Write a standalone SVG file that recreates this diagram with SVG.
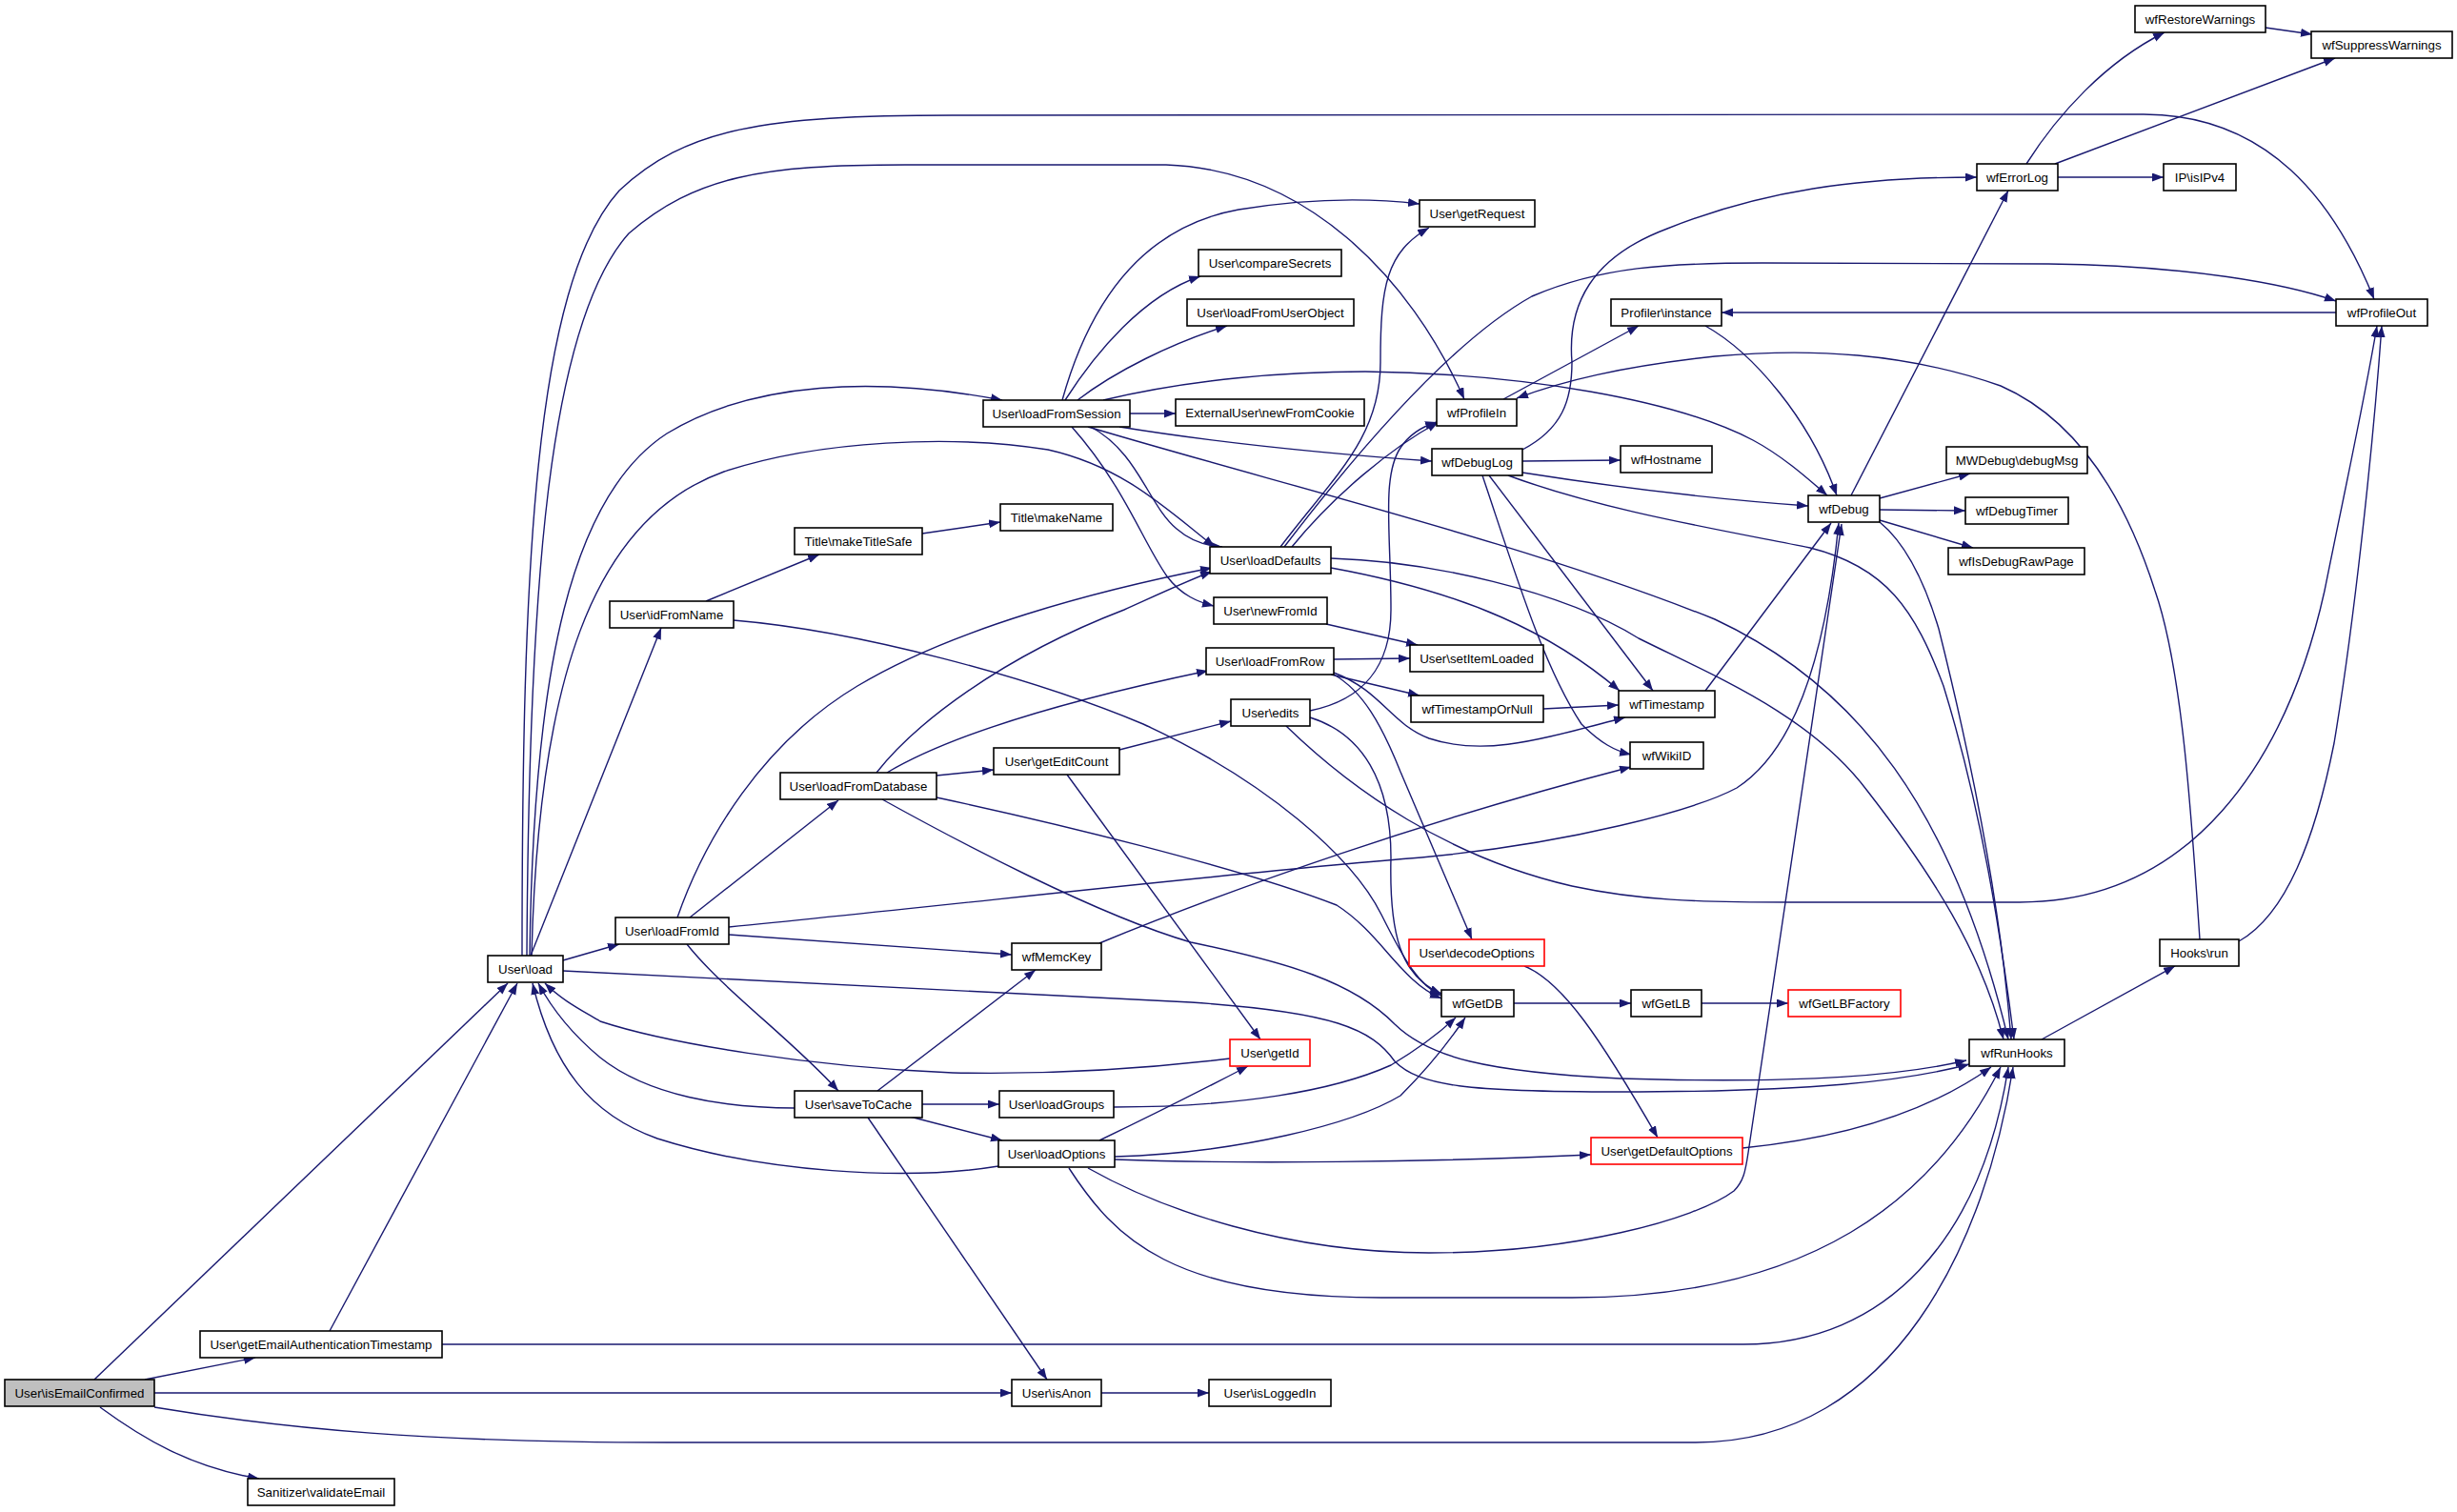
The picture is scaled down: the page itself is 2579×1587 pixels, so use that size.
<svg xmlns="http://www.w3.org/2000/svg" width="2579" height="1587" viewBox="0 0 2579 1587">
<style>
.e{fill:none;stroke:#191970;stroke-width:1.4;marker-end:url(#a)}
.n rect{fill:#ffffff;stroke:#000000;stroke-width:1.6}
.n.r rect{stroke:#ff0000}
.n.g rect{fill:#bfbfbf}
.n text{font-family:"Liberation Sans",Arial,sans-serif;font-size:13.3px;text-anchor:middle;fill:#000000}
</style>
<defs>
<marker id="a" markerUnits="userSpaceOnUse" markerWidth="14" markerHeight="10" refX="12" refY="4.5" orient="auto"><path d="M0,0 L12,4.5 L0,9 z" fill="#191970"/></marker>
</defs>
<rect x="0" y="0" width="2579" height="1587" fill="#ffffff"/>
<g id="edges">
<path class="e" d="M99,1448 L533,1032"/>
<path class="e" d="M152,1448 L268,1425"/>
<path class="e" d="M162,1462 L1062,1462"/>
<path class="e" d="M162,1477 C300,1500 450,1514 700,1514 L1780,1514 C1990,1514 2085,1300 2113,1120"/>
<path class="e" d="M105,1477 C150,1510 200,1540 272,1552"/>
<path class="e" d="M346,1397 L543,1032"/>
<path class="e" d="M464,1411 L1830,1411 C1980,1411 2080,1300 2108,1120"/>
<path class="e" d="M548,1003 C548,600 560,300 650,200 C720,135 800,121 1000,121 L2250,120 C2380,120 2450,210 2492,314"/>
<path class="e" d="M553,1003 C555,620 575,340 660,245 C730,185 800,173 950,173 L1224,173 C1370,178 1480,290 1537,419"/>
<path class="e" d="M556,1003 C560,700 600,520 700,455 C790,400 920,395 1052,420"/>
<path class="e" d="M558,1003 C565,720 620,545 760,495 C860,462 1000,456 1100,472 C1180,490 1225,535 1275,574"/>
<path class="e" d="M557,1003 L694,659"/>
<path class="e" d="M591,1008 L650,991"/>
<path class="e" d="M591,1019 L1250,1052 C1400,1062 1440,1080 1464,1114 C1490,1140 1540,1146 1700,1146 C1900,1146 2000,1135 2067,1117"/>
<path class="e" d="M741,631 L860,582"/>
<path class="e" d="M770,651 C900,662 1080,710 1200,760 C1330,820 1420,900 1450,960 C1475,1010 1490,1035 1513,1045"/>
<path class="e" d="M968,560 L1050,548"/>
<path class="e" d="M711,963 C740,880 800,780 900,720 C1000,660 1150,620 1272,596"/>
<path class="e" d="M724,963 L880,840"/>
<path class="e" d="M765,973 C1000,950 1300,915 1492,900 C1650,885 1780,850 1823,827 C1880,790 1915,700 1930,549"/>
<path class="e" d="M920,811 C960,760 1050,690 1180,640 C1220,622 1250,608 1272,600"/>
<path class="e" d="M931,811 C1000,770 1120,735 1268,704"/>
<path class="e" d="M983,814 L1043,808"/>
<path class="e" d="M983,837 C1100,862 1300,910 1403,950 C1450,980 1470,1030 1513,1048"/>
<path class="e" d="M926,839 C1000,880 1150,960 1250,989 C1350,1010 1420,1030 1464,1075 C1500,1110 1560,1125 1700,1132 C1900,1138 2000,1128 2064,1113"/>
<path class="e" d="M1175,787 L1292,757"/>
<path class="e" d="M1120,813 L1323,1091"/>
<path class="e" d="M1115,420 C1140,330 1190,240 1300,220 C1380,207 1440,208 1490,214"/>
<path class="e" d="M1118,420 C1150,370 1200,310 1260,290"/>
<path class="e" d="M1131,420 C1170,390 1230,360 1288,342"/>
<path class="e" d="M1186,434 L1234,434"/>
<path class="e" d="M1158,420 C1250,398 1350,390 1433,390 C1600,392 1760,420 1840,462 C1870,478 1895,500 1918,520"/>
<path class="e" d="M1175,448 C1280,465 1390,476 1503,484"/>
<path class="e" d="M1145,448 C1195,475 1205,530 1235,555 C1250,568 1265,573 1283,574"/>
<path class="e" d="M1125,448 C1180,510 1200,570 1225,605 C1240,625 1258,632 1274,636"/>
<path class="e" d="M1142,448 C1350,510 1600,570 1800,650 C1950,720 2050,850 2108,1091"/>
<path class="e" d="M1344,574 C1400,500 1449,460 1449,380 C1449,300 1455,265 1500,239"/>
<path class="e" d="M1356,574 C1400,520 1460,470 1510,443"/>
<path class="e" d="M1348,574 C1420,480 1520,360 1608,311 C1680,280 1750,276 1850,276 L2150,277 C2300,279 2400,298 2452,316"/>
<path class="e" d="M1397,596 C1540,622 1630,665 1700,725"/>
<path class="e" d="M1397,586 C1500,589 1640,620 1720,670 C1800,710 1900,750 1960,830 C2030,920 2080,1000 2103,1091"/>
<path class="e" d="M1375,746 C1430,735 1460,700 1460,640 C1460,560 1450,500 1470,470 C1480,455 1495,447 1508,443"/>
<path class="e" d="M1375,753 C1430,770 1460,820 1460,900 C1458,980 1470,1025 1513,1043"/>
<path class="e" d="M1350,762 C1420,830 1520,900 1650,930 C1720,945 1780,947 1880,947 L2120,947 C2300,947 2400,800 2440,620 C2460,520 2480,430 2495,342"/>
<path class="e" d="M2350,988 C2400,960 2430,880 2450,780 C2470,660 2490,480 2500,342"/>
<path class="e" d="M2309,986 C2300,850 2290,700 2262,620 C2230,520 2180,440 2100,405 C2000,370 1900,365 1800,374 C1700,385 1640,400 1592,418"/>
<path class="e" d="M1578,419 L1720,342"/>
<path class="e" d="M1598,472 C1640,450 1650,420 1650,380 C1645,320 1670,270 1750,240 C1850,200 1950,186 2075,186"/>
<path class="e" d="M1598,484 L1701,483"/>
<path class="e" d="M1598,496 C1700,512 1800,524 1898,531"/>
<path class="e" d="M1583,499 C1680,535 1800,555 1900,575 C1980,595 2010,640 2040,720 C2080,850 2100,980 2114,1091"/>
<path class="e" d="M1556,499 C1590,600 1620,700 1660,760 C1680,780 1695,788 1712,792"/>
<path class="e" d="M1563,499 L1735,725"/>
<path class="e" d="M1943,520 L2108,200"/>
<path class="e" d="M1973,523 L2068,497"/>
<path class="e" d="M1973,535 L2063,536"/>
<path class="e" d="M1973,546 L2071,575"/>
<path class="e" d="M2127,172 C2160,120 2210,65 2272,34"/>
<path class="e" d="M2157,172 L2451,61"/>
<path class="e" d="M2160,186 L2271,186"/>
<path class="e" d="M2378,29 L2427,36"/>
<path class="e" d="M2452,328 L1807,328"/>
<path class="e" d="M1790,342 C1840,370 1900,440 1928,520"/>
<path class="e" d="M1589,1053 L1712,1053"/>
<path class="e" d="M1786,1053 L1877,1053"/>
<path class="e" d="M1600,1014 C1640,1030 1680,1090 1740,1194"/>
<path class="e" d="M1829,1205 C1930,1195 2020,1170 2090,1120"/>
<path class="e" d="M1400,692 L1480,691"/>
<path class="e" d="M1397,708 L1490,730"/>
<path class="e" d="M1400,706 C1450,725 1460,760 1500,775 C1560,795 1620,775 1706,753"/>
<path class="e" d="M1400,708 C1430,725 1450,760 1470,810 L1545,986"/>
<path class="e" d="M1392,655 L1488,677"/>
<path class="e" d="M1620,744 L1699,740"/>
<path class="e" d="M1154,990 C1300,930 1500,860 1712,805"/>
<path class="e" d="M921,1145 L1087,1018"/>
<path class="e" d="M968,1159 L1049,1159"/>
<path class="e" d="M955,1172 L1052,1197"/>
<path class="e" d="M911,1173 L1099,1448"/>
<path class="e" d="M834,1163 C760,1163 680,1150 630,1110 C600,1085 580,1060 565,1032"/>
<path class="e" d="M1048,1224 C950,1240 800,1230 690,1195 C620,1170 580,1120 559,1032"/>
<path class="e" d="M1291,1111 C1200,1122 1100,1128 1000,1126 C850,1120 700,1095 630,1072 C610,1060 590,1050 572,1032"/>
<path class="e" d="M1169,1162 C1300,1162 1400,1145 1460,1118 C1490,1100 1510,1085 1528,1068"/>
<path class="e" d="M1154,1197 C1200,1175 1260,1145 1310,1119"/>
<path class="e" d="M1170,1214 C1300,1210 1420,1180 1470,1150 C1500,1120 1520,1095 1538,1068"/>
<path class="e" d="M1170,1217 C1300,1222 1500,1220 1670,1212"/>
<path class="e" d="M1142,1226 C1220,1270 1350,1315 1500,1315 C1650,1315 1780,1280 1820,1250 C1830,1240 1832,1230 1835,1210 L1933,550"/>
<path class="e" d="M1122,1226 C1170,1300 1230,1362 1450,1362 L1650,1362 C1900,1362 2030,1260 2100,1120"/>
<path class="e" d="M765,981 L1062,1002"/>
<path class="e" d="M721,991 C760,1040 830,1090 880,1145"/>
<path class="e" d="M2143,1091 L2283,1014"/>
<path class="e" d="M1156,1462 L1269,1462"/>
<path class="e" d="M1973,548 C2000,570 2020,610 2035,660 C2070,800 2100,950 2111,1091"/>
<path class="e" d="M1790,725 L1922,549"/>
</g>
<g id="n_isEmailConfirmed" class="n g"><rect x="5" y="1448" width="157" height="28"/><text x="83.5" y="1467">User\isEmailConfirmed</text></g>
<g id="n_getEmailAuthenticationTimestamp" class="n"><rect x="210" y="1397" width="254" height="28"/><text x="337" y="1416">User\getEmailAuthenticationTimestamp</text></g>
<g id="n_validateEmail" class="n"><rect x="260" y="1552" width="154" height="28"/><text x="337" y="1571">Sanitizer\validateEmail</text></g>
<g id="n_load" class="n"><rect x="512" y="1003" width="79" height="28"/><text x="551.5" y="1022">User\load</text></g>
<g id="n_idFromName" class="n"><rect x="640" y="631" width="130" height="28"/><text x="705" y="650">User\idFromName</text></g>
<g id="n_loadFromId" class="n"><rect x="646" y="963" width="119" height="28"/><text x="705.5" y="982">User\loadFromId</text></g>
<g id="n_makeTitleSafe" class="n"><rect x="834" y="554" width="134" height="28"/><text x="901" y="573">Title\makeTitleSafe</text></g>
<g id="n_loadFromDatabase" class="n"><rect x="819" y="811" width="164" height="28"/><text x="901" y="830">User\loadFromDatabase</text></g>
<g id="n_saveToCache" class="n"><rect x="834" y="1145" width="134" height="28"/><text x="901" y="1164">User\saveToCache</text></g>
<g id="n_loadFromSession" class="n"><rect x="1032" y="420" width="154" height="28"/><text x="1109" y="439">User\loadFromSession</text></g>
<g id="n_makeName" class="n"><rect x="1050" y="529" width="118" height="28"/><text x="1109" y="548">Title\makeName</text></g>
<g id="n_getEditCount" class="n"><rect x="1043" y="785" width="132" height="28"/><text x="1109" y="804">User\getEditCount</text></g>
<g id="n_wfMemcKey" class="n"><rect x="1062" y="990" width="94" height="28"/><text x="1109" y="1009">wfMemcKey</text></g>
<g id="n_loadGroups" class="n"><rect x="1049" y="1145" width="120" height="28"/><text x="1109" y="1164">User\loadGroups</text></g>
<g id="n_loadOptions" class="n"><rect x="1048" y="1197" width="122" height="28"/><text x="1109" y="1216">User\loadOptions</text></g>
<g id="n_isAnon" class="n"><rect x="1062" y="1448" width="94" height="28"/><text x="1109" y="1467">User\isAnon</text></g>
<g id="n_compareSecrets" class="n"><rect x="1258" y="262" width="150" height="28"/><text x="1333" y="281">User\compareSecrets</text></g>
<g id="n_loadFromUserObject" class="n"><rect x="1246" y="314" width="175" height="28"/><text x="1333.5" y="333">User\loadFromUserObject</text></g>
<g id="n_newFromCookie" class="n"><rect x="1234" y="419" width="198" height="28"/><text x="1333" y="438">ExternalUser\newFromCookie</text></g>
<g id="n_loadDefaults" class="n"><rect x="1270" y="574" width="127" height="28"/><text x="1333.5" y="593">User\loadDefaults</text></g>
<g id="n_newFromId" class="n"><rect x="1274" y="627" width="119" height="28"/><text x="1333.5" y="646">User\newFromId</text></g>
<g id="n_loadFromRow" class="n"><rect x="1266" y="680" width="134" height="28"/><text x="1333" y="699">User\loadFromRow</text></g>
<g id="n_edits" class="n"><rect x="1292" y="734" width="83" height="28"/><text x="1333.5" y="753">User\edits</text></g>
<g id="n_getId" class="n r"><rect x="1291" y="1091" width="84" height="28"/><text x="1333" y="1110">User\getId</text></g>
<g id="n_isLoggedIn" class="n"><rect x="1269" y="1448" width="128" height="28"/><text x="1333" y="1467">User\isLoggedIn</text></g>
<g id="n_getRequest" class="n"><rect x="1490" y="210" width="121" height="28"/><text x="1550.5" y="229">User\getRequest</text></g>
<g id="n_wfProfileIn" class="n"><rect x="1508" y="419" width="84" height="28"/><text x="1550" y="438">wfProfileIn</text></g>
<g id="n_wfDebugLog" class="n"><rect x="1503" y="471" width="95" height="28"/><text x="1550.5" y="490">wfDebugLog</text></g>
<g id="n_setItemLoaded" class="n"><rect x="1480" y="677" width="140" height="28"/><text x="1550" y="696">User\setItemLoaded</text></g>
<g id="n_wfTimestampOrNull" class="n"><rect x="1481" y="730" width="139" height="28"/><text x="1550.5" y="749">wfTimestampOrNull</text></g>
<g id="n_decodeOptions" class="n r"><rect x="1479" y="986" width="142" height="28"/><text x="1550" y="1005">User\decodeOptions</text></g>
<g id="n_wfGetDB" class="n"><rect x="1513" y="1039" width="76" height="28"/><text x="1551" y="1058">wfGetDB</text></g>
<g id="n_profilerInstance" class="n"><rect x="1691" y="314" width="116" height="28"/><text x="1749" y="333">Profiler\instance</text></g>
<g id="n_wfHostname" class="n"><rect x="1701" y="468" width="96" height="28"/><text x="1749" y="487">wfHostname</text></g>
<g id="n_wfTimestamp" class="n"><rect x="1699" y="725" width="101" height="28"/><text x="1749.5" y="744">wfTimestamp</text></g>
<g id="n_wfWikiID" class="n"><rect x="1711" y="779" width="77" height="28"/><text x="1749.5" y="798">wfWikiID</text></g>
<g id="n_wfGetLB" class="n"><rect x="1712" y="1039" width="74" height="28"/><text x="1749" y="1058">wfGetLB</text></g>
<g id="n_getDefaultOptions" class="n r"><rect x="1670" y="1194" width="159" height="28"/><text x="1749.5" y="1213">User\getDefaultOptions</text></g>
<g id="n_wfDebug" class="n"><rect x="1898" y="520" width="75" height="28"/><text x="1935.5" y="539">wfDebug</text></g>
<g id="n_wfGetLBFactory" class="n r"><rect x="1877" y="1039" width="118" height="28"/><text x="1936" y="1058">wfGetLBFactory</text></g>
<g id="n_wfErrorLog" class="n"><rect x="2075" y="172" width="85" height="28"/><text x="2117.5" y="191">wfErrorLog</text></g>
<g id="n_debugMsg" class="n"><rect x="2043" y="469" width="148" height="28"/><text x="2117" y="488">MWDebug\debugMsg</text></g>
<g id="n_wfDebugTimer" class="n"><rect x="2063" y="522" width="108" height="28"/><text x="2117" y="541">wfDebugTimer</text></g>
<g id="n_wfIsDebugRawPage" class="n"><rect x="2045" y="575" width="143" height="28"/><text x="2116.5" y="594">wfIsDebugRawPage</text></g>
<g id="n_wfRunHooks" class="n"><rect x="2067" y="1091" width="100" height="28"/><text x="2117" y="1110">wfRunHooks</text></g>
<g id="n_wfRestoreWarnings" class="n"><rect x="2241" y="6" width="137" height="28"/><text x="2309.5" y="25">wfRestoreWarnings</text></g>
<g id="n_isIPv4" class="n"><rect x="2271" y="172" width="76" height="28"/><text x="2309" y="191">IP\isIPv4</text></g>
<g id="n_hooksRun" class="n"><rect x="2267" y="986" width="83" height="28"/><text x="2308.5" y="1005">Hooks\run</text></g>
<g id="n_wfSuppressWarnings" class="n"><rect x="2426" y="33" width="148" height="28"/><text x="2500" y="52">wfSuppressWarnings</text></g>
<g id="n_wfProfileOut" class="n"><rect x="2452" y="314" width="96" height="28"/><text x="2500" y="333">wfProfileOut</text></g>
</svg>
